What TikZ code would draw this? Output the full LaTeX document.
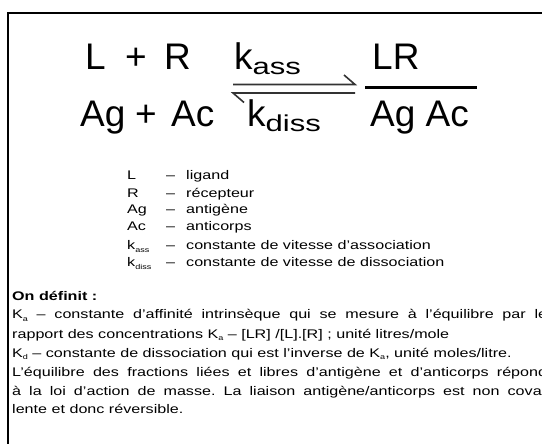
\documentclass[tikz,border=0pt]{standalone}
\usepackage{fontspec}
\setmainfont{Liberation Sans}[FakeStretch=1.29]
\newfontfamily\bigf{Liberation Sans}
\newfontfamily\subf{Liberation Sans}[FakeStretch=1.35]
\newcommand{\sbs}[2]{\raisebox{-#2}{\fontsize{7}{7}\selectfont #1}}
\newcommand{\bigsub}[1]{\raisebox{-5pt}{\subf\fontsize{23}{23}\selectfont #1}}
\begin{document}
\begin{tikzpicture}[x=1pt,y=-1pt,
  big/.style={anchor=base west, inner sep=0pt, font=\bigf\fontsize{37}{37}\selectfont},
  leg/.style={anchor=base west, inner sep=0pt, font=\fontsize{12.5}{12.5}\selectfont},
  para/.style={anchor=base west, inner sep=0pt, font=\fontsize{12.5}{12.5}\selectfont\frenchspacing},
  harp/.style={line width=1.6pt, draw=black!80}]
\useasboundingbox (0,0) rectangle (542,444);
\clip (0,0) rectangle (542,444);
\draw[line width=2.6pt] (8,460) -- (8,13) -- (560,13);
% equation
\node[big] (l) at (85,70) {L};
\node[big] (p1) at (125,70) {+};
\node[big] (r) at (164,70) {R};
\node[big] (ag) at (80,127) {Ag};
\node[big] (p2) at (135,127) {+};
\node[big] (ac) at (171,127) {Ac};
\node[big] (kass) at (234,70) {k\bigsub{ass}};
\node[big] (kdiss) at (247,127) {k\bigsub{diss}};
\node[big] (LR) at (372,70) {LR};
\node[big] (AgAc) at (370,127) {Ag Ac};
\coordinate (t1) at (233,84.5);
\coordinate (t2) at (355,84.5);
\coordinate (b1) at (233,93);
\coordinate (b2) at (355,93);
\draw[harp] (t1) -- (t2) -- ++(-11,-9.5);
\draw[harp] (b2) -- (b1) -- ++(11,9.5);
\draw[line width=3pt] (365,87.5) -- (477,87.5);
% legend
\foreach \t/\d/\y [count=\i] in {L/ligand/180, R/récepteur/197, Ag/antigène/214, Ac/anticorps/231,
  {k\sbs{ass}{3pt}}/constante de vitesse d'association/249, {k\sbs{diss}{3pt}}/constante de vitesse de dissociation/266}{
  \node[leg] (t\i) at (127,\y) {\t};
  \node[leg] (d\i) at (166,\y) {–};
  \node[leg] (x\i) at (186,\y) {\d};
}
% paragraph
\node[para] (q0) at (12,300) {\textbf{On définit :}};
\node[para] (q1) at (12,319) {\makebox[535pt][s]{K\sbs{a}{2pt} – constante d'affinité intrinsèque qui se mesure à l'équilibre par le}};
\node[para] (q2) at (12,338) {rapport des concentrations K\sbs{a}{2pt} – [LR] /[L].[R] ; unité litres/mole};
\node[para] (q3) at (12,357) {K\sbs{d}{2pt} – constante de dissociation qui est l'inverse de K\sbs{a}{2pt}, unité moles/litre.};
\node[para] (q4) at (12,376) {\makebox[535pt][s]{L'équilibre des fractions liées et libres d'antigène et d'anticorps répond}};
\node[para] (q5) at (12,395) {\makebox[535pt][s]{à la loi d'action de masse. La liaison antigène/anticorps est non cova-}};
\node[para] (q6) at (12,413) {lente et donc réversible.};
\end{tikzpicture}
\end{document}
